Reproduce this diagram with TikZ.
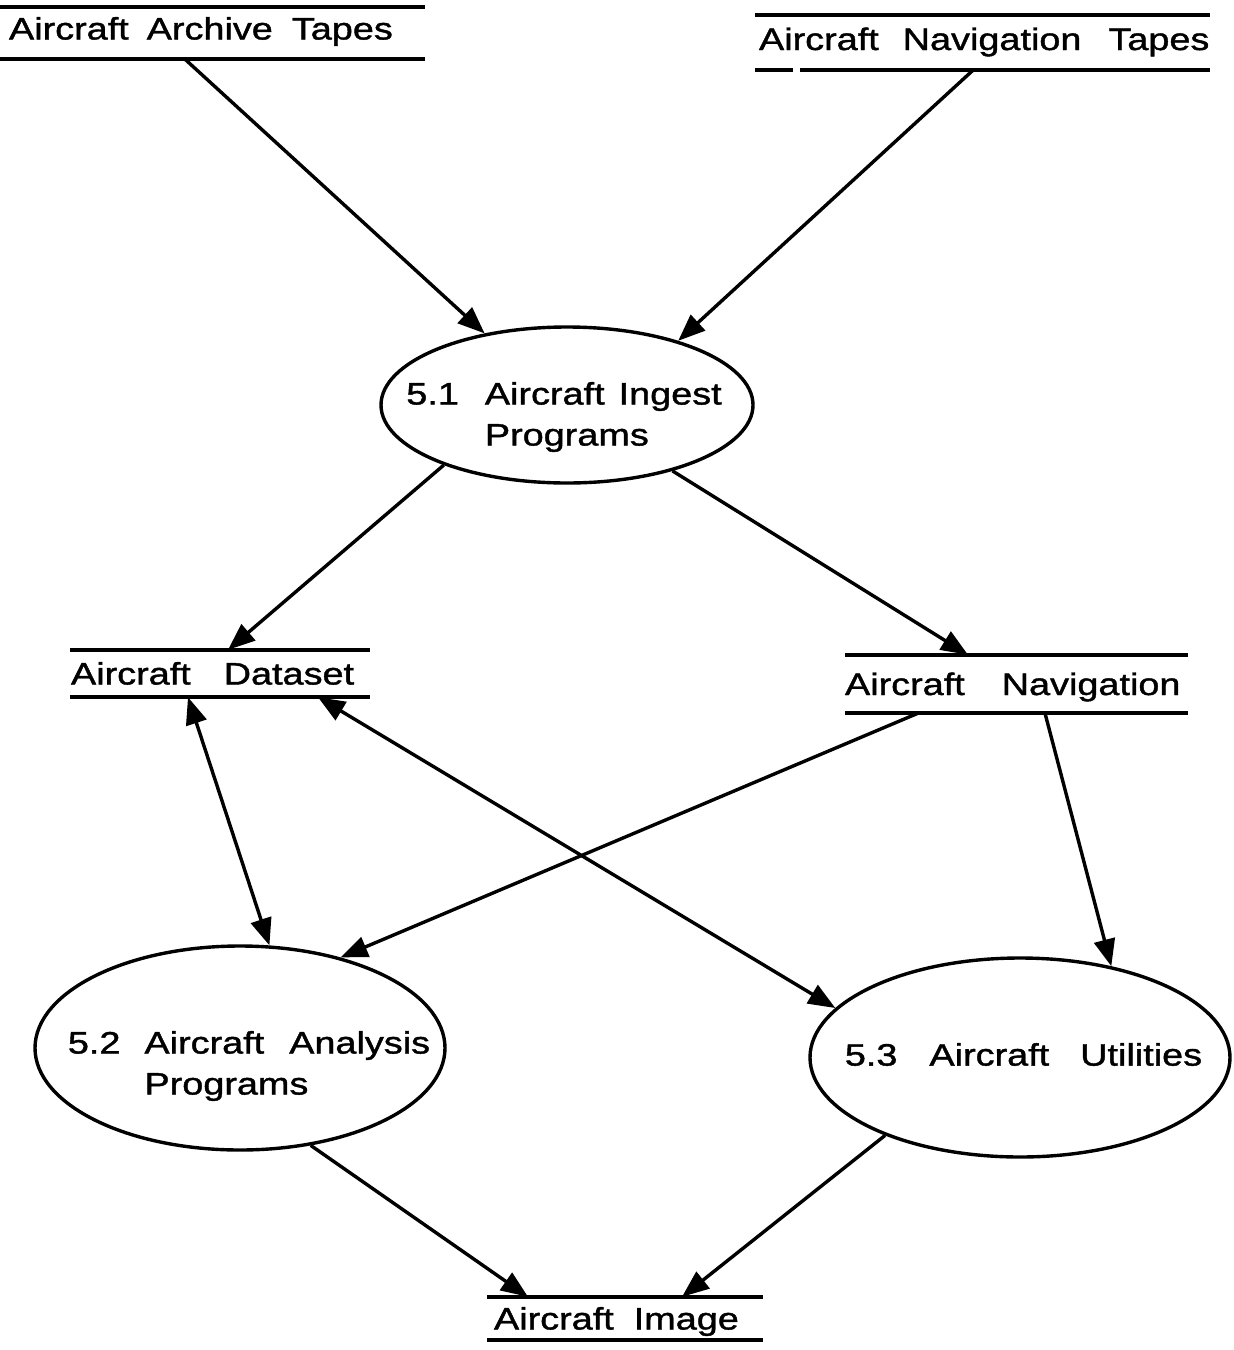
\documentclass[tikz,border=0pt]{standalone}
\usepackage{fontspec}
\setmainfont{Liberation Sans}[FakeStretch=1.22, FakeBold=1.3]
\usetikzlibrary{arrows.meta,shapes.geometric}
\newcommand\wg[1]{\hspace*{#1pt}}
\begin{document}
\begin{tikzpicture}[x=1pt,y=-1pt,
  every node/.style={font=\fontsize{31}{41}\selectfont, inner sep=0pt},
  lw/.style={line width=3.6pt, line cap=butt},
  store/.style={text height=22pt, text depth=0pt, align=left, inner ysep=0pt},
  proc/.style={ellipse, draw, line width=3.4pt},
  ptext/.style={align=left},
  flow/.style={line width=3.4pt, -{Triangle[length=27pt,width=21pt]}},
  biflow/.style={line width=3.4pt, {Triangle[length=27pt,width=21pt]}-{Triangle[length=27pt,width=21pt]}},
]
\useasboundingbox (0,0) rectangle (1234,1350);

% data stores
\node[store, minimum width=425pt, minimum height=52pt, inner xsep=9pt, text width=407pt, text depth=9pt] (arch) at (212.5,33)
  {Aircraft\wg{18}Archive\wg{19}Tapes};
\node[store, minimum width=455pt, minimum height=55pt, inner xsep=4pt, text width=447pt, text depth=7pt] (navt) at (982.5,42.5)
  {Aircraft\wg{24}Navigation\wg{27}Tapes};
\node[store, minimum width=300pt, minimum height=47pt, inner xsep=1pt, text width=298pt] (dset) at (220,673.5)
  {Aircraft\wg{33}Dataset};
\node[store, minimum width=343pt, minimum height=58pt, inner xsep=0pt, text width=343pt] (nav) at (1016.5,684)
  {Aircraft\wg{37}Navigation};
\node[store, minimum width=276pt, minimum height=43pt, inner xsep=7pt, text width=262pt] (img) at (625,1318.5)
  {Aircraft\wg{20}Image};

\foreach \s in {arch,dset,nav,img}
  \draw[lw] (\s.north west) -- (\s.north east) (\s.south west) -- (\s.south east);
\draw[lw] (navt.north west) -- (navt.north east)
  (navt.south west) -- ([xshift=38pt]navt.south west)
  ([xshift=45pt]navt.south west) -- (navt.south east);

% processes
\node[proc, minimum width=372pt, minimum height=156pt,
  label={[name=t51, ptext, xshift=-3pt, yshift=-12pt]center:{5.1\wg{26}Aircraft\wg{14}Ingest\\\phantom{5.1\wg{26}}Programs}}]
  (e51) at (567,405) {};
\node[proc, minimum width=410pt, minimum height=204pt,
  label={[name=t52, ptext, xshift=9pt, yshift=-18pt]center:{5.2\wg{24}Aircraft\wg{25}Analysis\\\phantom{5.2\wg{24}}Programs}}]
  (e52) at (240,1048) {};
\node[proc, minimum width=420pt, minimum height=199pt,
  label={[name=t53, ptext, xshift=3.5pt, yshift=3pt]center:{5.3\wg{32}Aircraft\wg{31}Utilities}}]
  (e53) at (1020,1057.5) {};

% flows
\draw[flow] ([xshift=-27.5pt]arch.south) -- (e51.139);
\draw[flow] ([xshift=-9.5pt]navt.south) -- (e51.30);
\draw[flow] (e51.206) -- ([xshift=8pt]dset.north);
\draw[flow] (e51.328) -- ([xshift=-48.5pt]nav.north);
\draw[biflow] ([xshift=-32pt]dset.south) -- (e52.74);
\draw[biflow] ([xshift=98pt]dset.south) -- (e53.165);
\draw[flow] ([xshift=-98.5pt]nav.south) -- (e52.42);
\draw[flow] ([xshift=28.5pt]nav.south) -- (e53.45);
\draw[flow] (e52.306) -- ([xshift=-97pt]img.north);
\draw[flow] (e53.210) -- ([xshift=57pt]img.north);
\end{tikzpicture}
\end{document}
